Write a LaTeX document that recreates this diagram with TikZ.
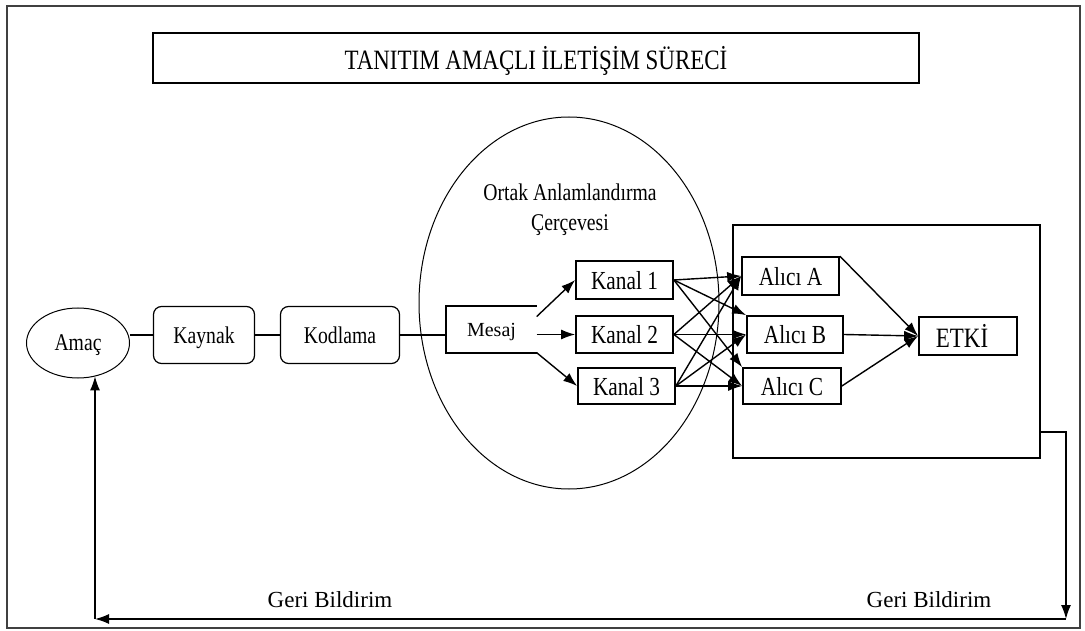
\documentclass[tikz,border=0pt]{standalone}
\usepackage{fontspec}
\setmainfont{Liberation Serif}[FakeStretch=0.82]
\newfontfamily\plainfont{Liberation Serif}
\usetikzlibrary{arrows.meta,shapes.geometric}
\begin{document}
\begin{tikzpicture}[x=1pt,y=-1pt,line width=1.4pt,
  fs/.style={font=\fontsize{#1}{#1}\selectfont},
  box/.style={draw, rectangle, inner sep=0pt, line width=1.7pt, text depth=0pt},
  rbox/.style={box, rounded corners=8pt, line width=1.2pt},
  arr/.style={-{Latex[length=14pt,width=10pt]}},
  lbl/.style={inner sep=0pt}]
\useasboundingbox (0,0) rectangle (1085,631);
% frame
\draw[line width=1.6pt, draw=black!75] (7,6) rectangle (1080,628);
% title
\node[box, minimum width=766pt, minimum height=50pt, fs=28] (title) at (536,58) {TANITIM AMAÇLI İLETİŞİM SÜRECİ};
% left chain
\node[draw, ellipse, inner sep=0pt, line width=1pt, text depth=0pt, minimum width=103pt, minimum height=70pt, fs=24] (amac) at (78,343) {Amaç};
\node[rbox, minimum width=101pt, minimum height=57pt, fs=24] (kaynak) at (204,335) {Kaynak};
\node[rbox, minimum width=119pt, minimum height=57pt, fs=24] (kodlama) at (340,335) {Kodlama};
% frame of reference ellipse
\node[draw, ellipse, inner sep=0pt, line width=1pt, minimum width=300pt, minimum height=372pt] (cerceve) at (569,303) {};
\node[lbl, fs=24, align=center] (ortak) at (570,210) {Ortak Anlamlandırma\\[6pt]Çerçevesi};
% message
\node[lbl, minimum width=89pt, minimum height=45pt, text depth=0pt, font=\plainfont\fontsize{20}{20}\selectfont] (mesaj) at (491.5,329.5) {Mesaj};
\draw[line width=1.7pt] (mesaj.north east) -- (mesaj.north west) -- (mesaj.south west) -- (mesaj.south east);
% channels
\node[box, minimum width=97pt, minimum height=38pt, fs=26] (k1) at (624.5,280) {Kanal 1};
\node[box, minimum width=97pt, minimum height=37pt, fs=26] (k2) at (624.5,334.5) {Kanal 2};
\node[box, minimum width=97pt, minimum height=36pt, fs=26] (k3) at (626.5,386) {Kanal 3};
% receivers container
\node[box, minimum width=307pt, minimum height=233pt] (cont) at (886.5,341.5) {};
\node[box, minimum width=97pt, minimum height=38pt, fs=26] (aa) at (790.5,276) {Alıcı A};
\node[box, minimum width=96pt, minimum height=37pt, fs=26] (ab) at (795,334.5) {Alıcı B};
\node[box, minimum width=98pt, minimum height=36pt, fs=26] (ac) at (792,386) {Alıcı C};
\node[box, minimum width=98pt, minimum height=38pt, fs=28] (etki) at (968,336) {\hspace*{-12pt}ETKİ};
% chain connectors
\draw (kaynak.west) -- (amac.east |- kaynak.west);
\draw (kaynak.east) -- (kodlama.west);
\draw (kodlama.east) -- (mesaj.west |- kodlama.east);
% message to channels
\draw[arr] (mesaj.16) -- (k1.west);
\draw[arr] (mesaj.east |- k2.west) -- (k2.west);
\draw[arr] (mesaj.south east) -- (k3.west);
% channels to receivers
\foreach \k in {k1,k2,k3}{
  \draw[arr] (\k.east) -- (aa.west);
}
\draw[arr] (k1.east) -- (ab.north west);
\draw[arr] (k2.east) -- (ab.west);
\draw[arr] (k3.east) -- (ab.west);
\draw[arr] (k1.east) -- (ac.north west);
\draw[arr] (k2.east) -- (ac.west);
\draw[arr] (k3.east) -- (ac.west);
% receivers to effect
\draw[arr] (aa.north east) -- (etki.west);
\draw[arr] (ab.east) -- (etki.west);
\draw[arr] (ac.east) -- (etki.west);
% feedback
\coordinate (fbt) at (1066,432);
\coordinate (fbr) at (1066,619);
\coordinate (fbl) at (95,619);
\draw[arr] (cont.east |- fbt) -- (fbt) -- (fbr);
\draw[arr] (fbr) -- (fbl);
\draw[arr] (fbl) -- (fbl |- amac.-62);
\node[lbl, font=\plainfont\fontsize{23}{23}\selectfont] (gb1) at (330,600) {Geri Bildirim};
\node[lbl, font=\plainfont\fontsize{23}{23}\selectfont] (gb2) at (929,600) {Geri Bildirim};
\end{tikzpicture}
\end{document}
